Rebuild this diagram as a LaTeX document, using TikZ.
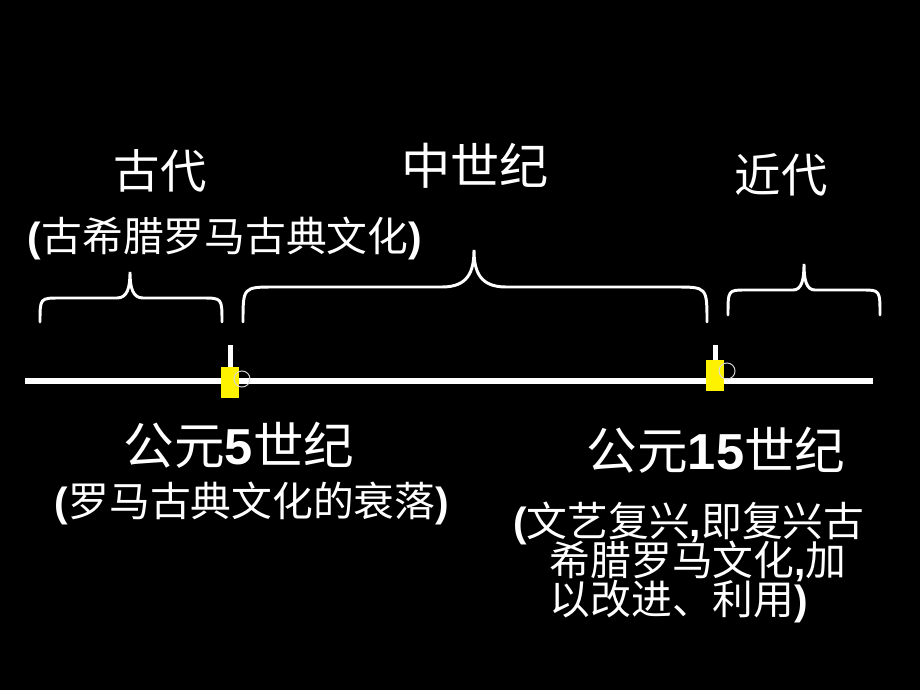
\documentclass[tikz,border=0pt]{standalone}
\usepackage{fontspec}
\setmainfont{Liberation Sans}
\newfontfamily\cjk{Noto Sans CJK SC}
\newcommand{\lat}[1]{{\rmfamily\bfseries #1}}
\newcommand{\timeLine}{%%
  %% The time axis.
  \draw[axisStyle] (tstart) -- (tend);
}
\newcommand{\curlyBrace}[8]{%%
  %% Ends #1 and #2 at foot #3, top line #4, tip at (#5,#6).
  \draw[braceStyle] (#1,#3) .. controls (#1,#4) .. (#1+#7,#4)
    -- (#5-#8,#4) .. controls (#5-0.2*#8,#4) and (#5,{#4-0.4*(#4-#6)}) .. (#5,#6)
    .. controls (#5,{#4-0.4*(#4-#6)}) and (#5+0.2*#8,#4) .. (#5+#8,#4)
    -- (#2-#7,#4) .. controls (#2,#4) .. (#2,#3);
}
\newcommand{\dateMark}[3]{%%
  %% The tick above the box.
  \fill[white] (#1-2.5,345) rectangle (#1+2.5,#2);
  %% The yellow box.
  \fill[markStyle] (#1-9,#2) rectangle (#1+9,#2+31);
  %% The small ring.
  \draw[ringStyle] (#1+12,#3) circle[radius=5.7pt];
}

\begin{document}
\begin{tikzpicture}[%%
  x=0.025cm,y=-0.025cm,
  axisStyle/.style={-,white,line width=3.6pt},%%
  braceStyle/.style={-,white,line width=2.1pt,line cap=round},%%
  markStyle/.style={fill=yellow},%%
  ringStyle/.style={draw=white!85!black,line width=0.7pt},%%
  textStyle/.style={white,inner sep=0pt},%%
  titleStyle/.style={textStyle,font={\cjk\fontsize{33}{40}\selectfont}},%%
  dateStyle/.style={textStyle,font={\cjk\fontsize{36}{42}\selectfont}},%%
  noteStyle/.style={textStyle,font={\cjk\fontsize{29}{27.5}\selectfont\lineskiplimit=-100pt}}
]
%%
%%
\fill[black] (0,0) rectangle (920,690);
\useasboundingbox (0,0) rectangle (920,690);
\coordinate (tstart) at (25,381);
\coordinate (tend) at (873,381);
%%
%%
%% The periods above the axis.
\node[titleStyle] (ancient) at (160,171) {古代};
\node[titleStyle,font={\cjk\fontsize{35}{40}\selectfont}] (medieval) at (475,166) {中世纪};
\node[titleStyle] (modern) at (781,175) {近代};
\node[noteStyle] (ancientNote) at (225,238) {\lat{(}古希腊罗马古典文化\lat{)}};
%% Braces over the periods.
\curlyBrace{40}{222}{322}{298}{130}{272}{20}{13}
\curlyBrace{243}{707}{322}{287}{474}{250}{32}{32}
\curlyBrace{728}{880}{315}{290}{804}{264}{18}{11}
%%
\timeLine
\dateMark{230}{367}{379}
\dateMark{715}{360}{371}
%%
%% Dates below the axis.
\node[dateStyle] (fifth) at (239,445) {公元\lat{5}世纪};
\node[noteStyle] (fifthNote) at (252,503) {\lat{(}罗马古典文化的衰落\lat{)}};
\node[dateStyle] (fifteenth) at (716,450) {公元\lat{15}世纪};
\node[noteStyle,align=left,anchor=north west] (renaissance) at (513,502)
  {\lat{(}文艺复兴\lat{,}即复兴古\\
   \hspace{26pt}希腊罗马文化\lat{,}加\\
   \hspace{26pt}以改进、利用\lat{)}};
\end{tikzpicture}
\end{document}
